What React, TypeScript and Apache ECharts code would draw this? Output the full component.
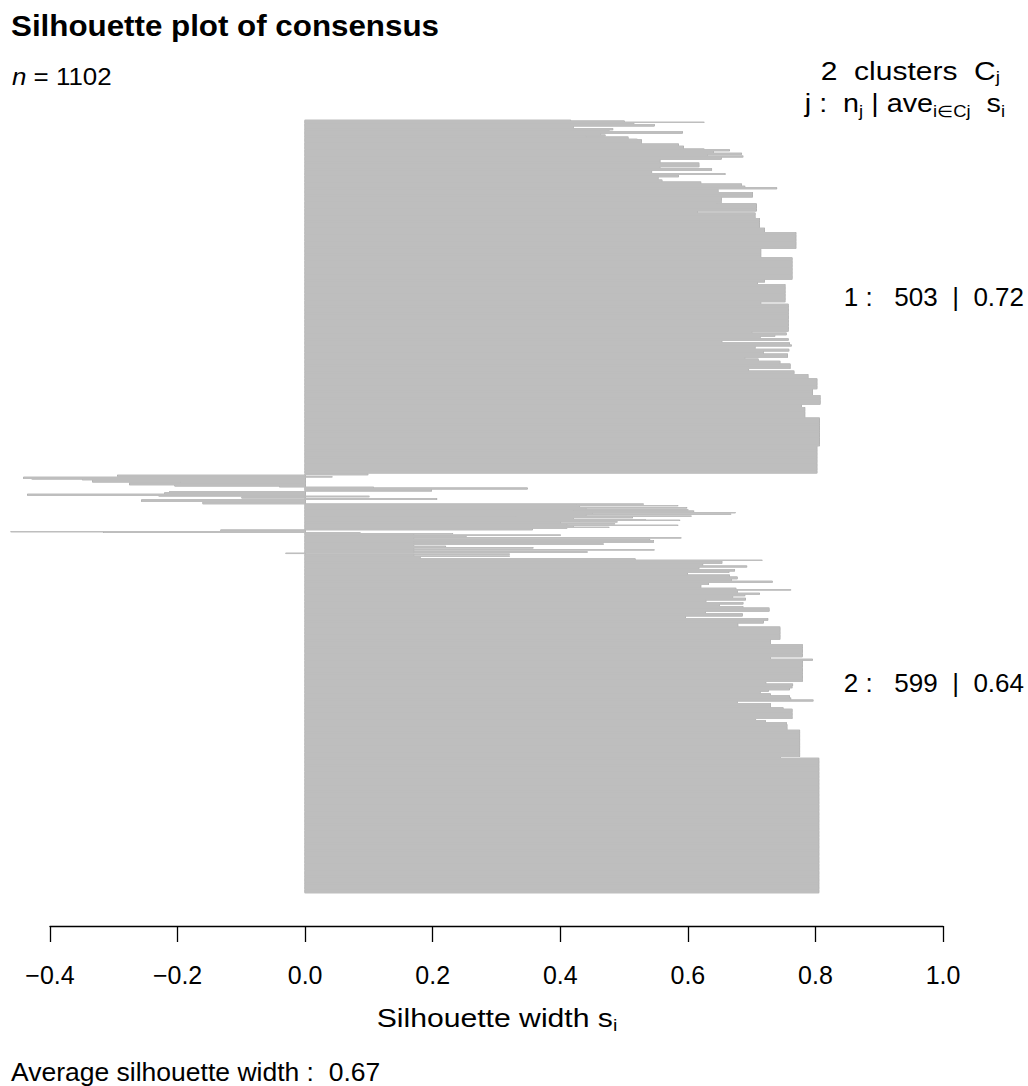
import React, { useEffect, useRef } from "react";
import * as echarts from "echarts";

// ---- data (run-length encoded silhouette widths, top to bottom) ----
const cluster1Values = [
  0.416, 0.5, 0.625, 0.515, 0.547, 0.42, 0.482, 0.476, 0.591, 0.463, 0.47, 0.44, 0.506, 0.52, 0.527,
  0.585, 0.593, 0.625, 0.665, 0.64, 0.684, 0.63, 0.686, 0.652, 0.556, 0.617, 0.556, 0.637, 0.543, 0.658,
  0.585, 0.553, 0.559, 0.62, 0.684, 0.689, 0.739, 0.647, 0.701, 0.652, 0.645, 0.707, 0.615, 0.705, 0.712,
  0.72, 0.769, 0.714, 0.763, 0.72, 0.709, 0.752, 0.714, 0.757, 0.7, 0.754, 0.736, 0.713, 0.757, 0.653,
  0.759, 0.762, 0.705, 0.758, 0.718, 0.756, 0.689, 0.71, 0.744, 0.76, 0.695, 0.766, 0.788, 0.802, 0.795,
  0.807, 0.778, 0.783, 0.806, 0.802,
];
const cluster1Counts = [
  1, 2, 1, 2, 3, 3, 2, 2, 3, 2, 2, 1, 3, 1, 6,
  3, 4, 1, 2, 3, 2, 2, 2, 3, 5, 6, 2, 3, 4, 2,
  3, 4, 3, 3, 3, 2, 2, 5, 7, 8, 1, 11, 2, 8, 14,
  6, 23, 13, 31, 4, 3, 25, 3, 39, 2, 3, 2, 3, 3, 3,
  3, 2, 4, 3, 4, 5, 2, 3, 4, 7, 3, 5, 6, 15, 9,
  13, 4, 15, 40, 39,
];
const cluster2Values = [
  0.098, -0.294, 0.042, -0.441, -0.428, -0.349, -0.333, -0.195, -0.275, -0.204, -0.04, 0.107, 0.348,
  0.198, -0.212, -0.22, -0.435, -0.229, 0.1, -0.099, 0.206, -0.256, -0.16,
  0.53, 0.425, 0.584, 0.43, 0.598, 0.44, 0.6, 0.42, 0.609, 0.44, 0.674, 0.45, 0.667, 0.44, 0.605, 0.33,
  0.513, 0.42, 0.533, 0.587, 0.43, 0.489, 0.4, 0.485, 0.41, 0.584, 0.42, 0.476, 0.41, 0.356,
  -0.132, -0.461, -0.316,
  0.086, 0.231, 0.17, 0.4, 0.252, 0.17, 0.589, 0.17, 0.54, 0.17, 0.546, 0.17, 0.546, 0.467, 0.17, 0.467,
  0.17, 0.22, 0.17, 0.357, 0.17, 0.547, 0.17, 0.442, 0.17, -0.03, 0.32, 0.17, 0.32, 0.18, 0.517,
  0.716, 0.653, 0.623, 0.692, 0.617, 0.673, 0.664, 0.599, 0.665, 0.677, 0.668, 0.732, 0.632, 0.62,
  0.675, 0.761, 0.677, 0.712, 0.689, 0.67, 0.69, 0.628, 0.686, 0.649, 0.686, 0.727, 0.627, 0.685,
  0.596, 0.725, 0.718, 0.678, 0.744, 0.729, 0.779, 0.729, 0.795, 0.779, 0.612, 0.722, 0.764, 0.763,
  0.759, 0.726, 0.713, 0.729, 0.759, 0.761, 0.796, 0.677, 0.729, 0.749, 0.763, 0.706, 0.721, 0.754,
  0.755, 0.775, 0.745, 0.805,
];
const cluster2Counts = [
  2, 2, 1, 2, 1, 1, 3, 1, 3, 2, 1, 1, 2,
  3, 2, 2, 2, 1, 1, 2, 2, 3, 3,
  1, 1, 1, 2, 1, 2, 1, 1, 1, 1, 1, 1, 1, 2, 1, 1,
  1, 2, 1, 1, 1, 1, 2, 1, 1, 1, 2, 1, 1, 2,
  2, 1, 1,
  1, 1, 1, 1, 2, 1, 1, 1, 1, 1, 1, 1, 1, 1, 1, 1,
  2, 1, 1, 1, 2, 1, 2, 1, 1, 1, 1, 2, 1, 3, 2,
  1, 4, 3, 2, 3, 3, 2, 3, 3, 3, 3, 2, 3, 5,
  2, 1, 4, 2, 2, 3, 3, 3, 3, 3, 2, 5, 3, 4,
  3, 3, 4, 5, 18, 7, 18, 3, 2, 30, 1, 2, 3, 3,
  3, 2, 3, 3, 3, 3, 2, 3, 6, 2, 14, 2, 3, 3,
  8, 38, 2, 192,
];
const clusterIds = [1, 2];
const clusterSizes = [503, 599];
const clusterAverages = ["0.72", "0.64"];
const averageWidth = "0.67";
const nObs = 1102;
const clusterGap = 0.5;
const xMin = -0.4;
const xMax = 1.0;
const xInterval = 0.2;

const FONT = "'Liberation Sans', Arial, Helvetica, sans-serif";

function expand(values: number[], counts: number[]): number[] {
  const out: number[] = [];
  values.forEach((v, i) => {
    for (let k = 0; k < counts[i]; k++) out.push(v);
  });
  return out;
}

export default function App() {
  const ref = useRef<HTMLDivElement>(null);

  useEffect(() => {
    if (!ref.current) return;
    const chart = echarts.init(ref.current, undefined, { renderer: "svg" });

    const clusters = [expand(cluster1Values, cluster1Counts), expand(cluster2Values, cluster2Counts)];
    const rows: number[][] = [];
    const centers: number[] = [];
    let offset = 0;
    clusters.forEach((vals, ci) => {
      if (ci > 0) offset += clusterGap;
      vals.forEach((v, k) => rows.push([v, offset + k + 0.5]));
      centers.push(offset + vals.length / 2);
      offset += vals.length;
    });
    const total = offset;

    const makeRender = (fill: string, padX: number, padY: number) => (params: any, api: any) => {
      const v = api.value(0);
      const p = api.value(1);
      const a = api.coord([0, p]);
      const b = api.coord([v, p]);
      const h = Math.abs(api.size([0, 1])[1]);
      const x0 = Math.min(a[0], b[0]) - padX;
      const x1 = Math.max(a[0], b[0]) + padX;
      return {
        type: "rect",
        shape: { x: x0, y: a[1] - h / 2 - padY, width: x1 - x0, height: h + 2 * padY },
        style: { fill },
      };
    };

    chart.setOption({
      animation: false,
      backgroundColor: "#ffffff",
      grid: { left: 50, right: 85, top: 120, bottom: 193, containLabel: false },
      xAxis: {
        type: "value",
        min: xMin,
        max: xMax,
        interval: xInterval,
        position: "bottom",
        offset: 33,
        axisLine: { show: true, onZero: false, lineStyle: { color: "#000", width: 1.3 } },
        axisTick: { show: true, length: 16, inside: false, lineStyle: { color: "#000", width: 1.3 } },
        axisLabel: {
          fontSize: 25,
          color: "#000",
          fontFamily: FONT,
          margin: 36,
          formatter: (v: number) => v.toFixed(1).replace("-", "\u2212"),
        },
        splitLine: { show: false },
      },
      yAxis: { type: "value", min: 0, max: total, inverse: true, show: false },
      series: [
        {
          type: "custom",
          silent: true,
          clip: false,
          renderItem: makeRender("#a8a8a8", 0.6, 0.3),
          encode: { x: 0, y: 1 },
          data: rows,
        },
        {
          type: "custom",
          silent: true,
          clip: false,
          renderItem: makeRender("#bebebe", 0, 0.3),
          encode: { x: 0, y: 1 },
          data: rows,
        },
      ],
    });

    const subStyle = (size: number) => ({ fontSize: size, fontFamily: FONT, fill: "#000", padding: [14, 0, 0, 0] });
    const mainStyle = (size: number) => ({ fontSize: size, fontFamily: FONT, fill: "#000" });

    const labelY = centers.map((c) => chart.convertToPixel({ yAxisIndex: 0 }, c) as number);

    const graphics: any[] = [
      {
        type: "text",
        x: 11,
        y: 26,
        scaleX: 1.08,
        style: {
          text: "Silhouette plot of consensus",
          font: `bold 29px ${FONT}`,
          fill: "#000",
          textVerticalAlign: "middle",
        },
      },
      {
        type: "text",
        x: 12,
        y: 76,
        scaleX: 1.08,
        style: {
          text: `{it|n} = ${nObs}`,
          fontSize: 24,
          fontFamily: FONT,
          fill: "#000",
          textVerticalAlign: "middle",
          rich: { it: { fontStyle: "italic", fontSize: 24, fontFamily: FONT } },
        },
      },
      {
        type: "text",
        x: 1000,
        y: 71,
        scaleX: 1.2,
        style: {
          text: `{m|${clusterIds.length}  clusters  C}{s|j}`,
          textAlign: "right",
          textVerticalAlign: "middle",
          rich: { m: mainStyle(25), s: subStyle(16) },
        },
      },
      {
        type: "text",
        x: 1005,
        y: 104,
        scaleX: 1.15,
        style: {
          text: "{m|j :  n}{s|j}{m| | ave}{s|i\u2208Cj}{m|  s}{s|i}",
          textAlign: "right",
          textVerticalAlign: "middle",
          rich: { m: mainStyle(25), s: subStyle(16) },
        },
      },
      {
        type: "text",
        x: 497,
        y: 1018,
        scaleX: 1.16,
        style: {
          text: "{m|Silhouette width s}{s|i}",
          textAlign: "center",
          textVerticalAlign: "middle",
          rich: { m: mainStyle(26), s: subStyle(17) },
        },
      },
      {
        type: "text",
        x: 11,
        y: 1072,
        style: {
          text: `Average silhouette width :  ${averageWidth}`,
          font: `26.5px ${FONT}`,
          fill: "#000",
          textVerticalAlign: "middle",
        },
      },
    ];
    clusterIds.forEach((id, i) => {
      graphics.push({
        type: "text",
        x: 1024,
        y: labelY[i],
        style: {
          text: `${id} :   ${clusterSizes[i]}  |  ${clusterAverages[i]}`,
          font: `26px ${FONT}`,
          fill: "#000",
          textAlign: "right",
          textVerticalAlign: "middle",
        },
      });
    });
    chart.setOption({ graphic: graphics });

    return () => chart.dispose();
  }, []);

  return (
    <div
      ref={ref}
      style={{ position: "absolute", left: 0, top: 0, width: 1028, height: 1086, background: "#fff" }}
    />
  );
}
